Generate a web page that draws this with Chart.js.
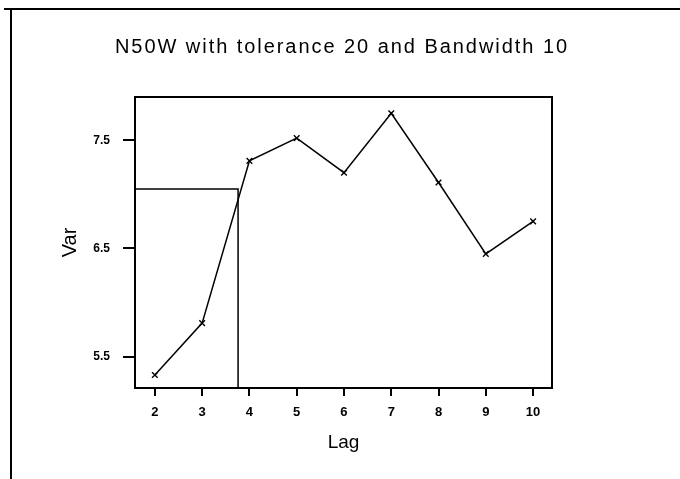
<!DOCTYPE html>
<html>
<head>
<meta charset="utf-8">
<script src="https://cdn.jsdelivr.net/npm/chart.js@4/dist/chart.umd.min.js"></script>
<style>
  html, body { margin: 0; padding: 0; background: #fff; }
  #wrap { width: 680px; height: 479px; position: relative; }
</style>
</head>
<body>
<div id="wrap"><canvas id="c" width="680" height="479"></canvas></div>
<script>
// Experimental variogram along N50W (tolerance 20, bandwidth 10)
const lags = [2, 3, 4, 5, 6, 7, 8, 9, 10];
const variance = [5.33, 5.81, 7.31, 7.52, 7.20, 7.75, 7.11, 6.45, 6.75];

// Axis extents and tick marks
const lagMin = 1.58, lagMax = 10.4;
const varMin = 5.21, varMax = 7.9;
const lagTicks = [2, 3, 4, 5, 6, 7, 8, 9, 10];
const varTicks = [5.5, 6.5, 7.5];

// Sill level and the lag at which it is reached
const sill = 7.05;
const range = 3.76;

const chartTitle = 'N50W with tolerance 20 and Bandwidth 10';

const variogramPoints = lags.map((x, i) => ({ x: x, y: variance[i] }));
const sillGuide = [
  { x: lagMin, y: sill },
  { x: range, y: sill },
  { x: range, y: varMin }
];

// Page frame, heading and the box round the plot area
const framePlugin = {
  id: 'frame',
  afterDraw(chart) {
    const ctx = chart.ctx;
    const a = chart.chartArea;
    ctx.save();
    ctx.strokeStyle = '#000';
    ctx.lineWidth = 2;
    ctx.beginPath();
    ctx.moveTo(4, 9);
    ctx.lineTo(680, 9);
    ctx.moveTo(11, 9);
    ctx.lineTo(11, 479);
    ctx.stroke();
    ctx.strokeRect(a.left, a.top, a.right - a.left, a.bottom - a.top);

    ctx.fillStyle = '#000';
    ctx.font = '20px "Liberation Sans", Arial, sans-serif';
    ctx.letterSpacing = '1.95px';
    ctx.textAlign = 'center';
    ctx.textBaseline = 'alphabetic';
    ctx.fillText(chartTitle, 342, 53);
    ctx.restore();
  }
};

new Chart(document.getElementById('c'), {
  type: 'scatter',
  data: {
    datasets: [
      {
        data: variogramPoints,
        showLine: true,
        borderColor: '#000',
        borderWidth: 1.5,
        pointStyle: 'crossRot',
        pointRadius: 4,
        pointBorderWidth: 1.4,
        pointBorderColor: '#000',
        pointBackgroundColor: '#000'
      },
      {
        data: sillGuide,
        showLine: true,
        borderColor: '#000',
        borderWidth: 1.5,
        pointRadius: 0
      }
    ]
  },
  options: {
    responsive: false,
    animation: false,
    events: [],
    layout: { padding: { left: 12, right: 128, top: 97, bottom: 21 } },
    plugins: {
      legend: { display: false },
      tooltip: { enabled: false },
      title: { display: false }
    },
    scales: {
      x: {
        type: 'linear',
        min: lagMin,
        max: lagMax,
        afterBuildTicks: s => { s.ticks = lagTicks.map(v => ({ value: v })); },
        afterFit: s => { s.height = 70; },
        grid: { display: true, drawOnChartArea: false, color: '#000', lineWidth: 2, tickLength: 8 },
        border: { display: false },
        ticks: {
          color: '#000',
          padding: 9,
          font: { family: '"Liberation Sans", Arial, sans-serif', size: 13, weight: 'bold' },
          callback: v => String(v)
        },
        title: {
          display: true,
          text: 'Lag',
          color: '#000',
          font: { family: '"Liberation Sans", Arial, sans-serif', size: 19 },
          padding: { top: 0, bottom: 4 }
        }
      },
      y: {
        type: 'linear',
        min: varMin,
        max: varMax,
        afterBuildTicks: s => { s.ticks = varTicks.map(v => ({ value: v })); },
        afterFit: s => { s.width = 123; },
        grid: { display: true, drawOnChartArea: false, color: '#000', lineWidth: 2, tickLength: 12 },
        border: { display: false },
        ticks: {
          color: '#000',
          padding: 13,
          font: { family: '"Liberation Sans", Arial, sans-serif', size: 12, weight: 'bold' },
          callback: v => v.toFixed(1)
        },
        title: {
          display: true,
          text: 'Var',
          color: '#000',
          font: { family: '"Liberation Sans", Arial, sans-serif', size: 20 },
          padding: { top: 46, bottom: 0 }
        }
      }
    }
  },
  plugins: [framePlugin]
});
</script>
</body>
</html>
